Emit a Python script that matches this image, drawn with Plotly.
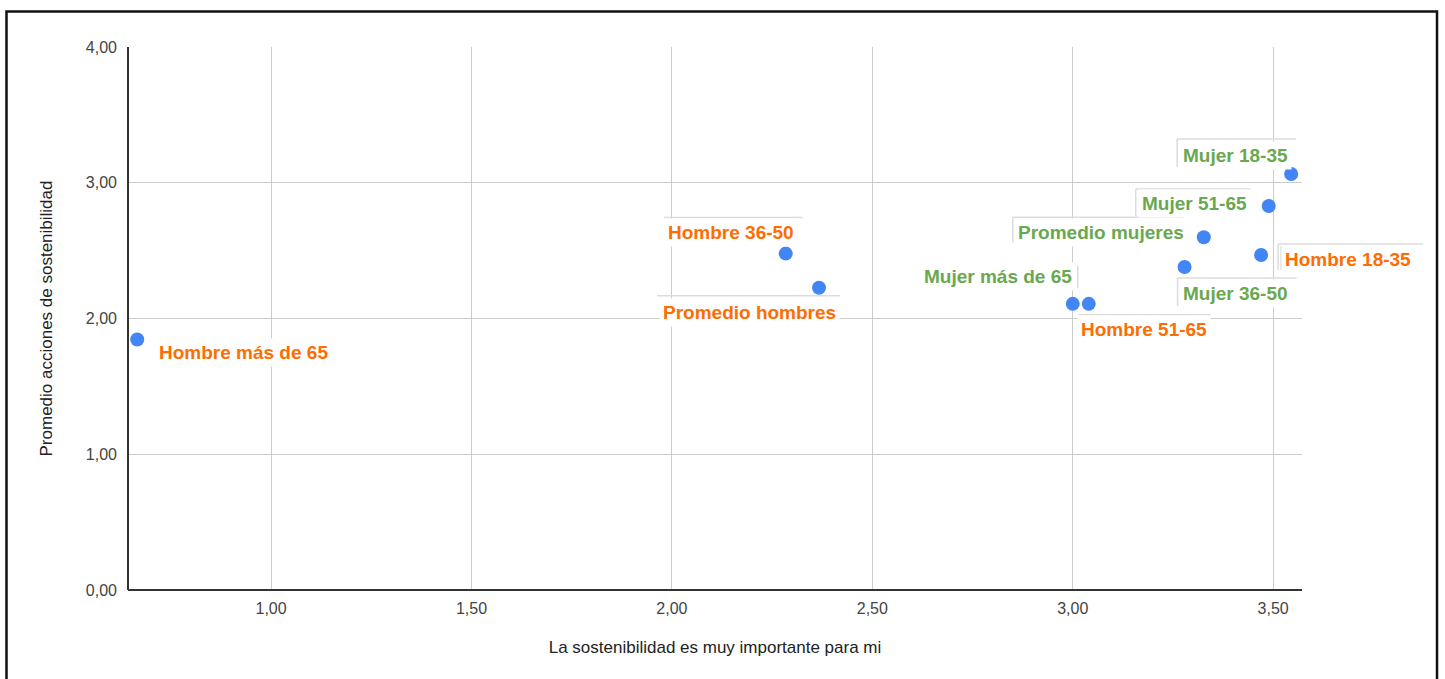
import plotly.graph_objects as go

# Segmentos (sexo / edad) y sus promedios
segmentos = [
    "Hombre más de 65", "Hombre 36-50", "Promedio hombres", "Mujer más de 65",
    "Hombre 51-65", "Mujer 36-50", "Promedio mujeres", "Hombre 18-35",
    "Mujer 51-65", "Mujer 18-35",
]
importancia = [0.666, 2.284, 2.367, 3.000, 3.040, 3.279, 3.327, 3.470, 3.489, 3.545]
acciones = [1.845, 2.478, 2.227, 2.108, 2.108, 2.379, 2.599, 2.468, 2.829, 3.064]
grupo = ["h", "h", "h", "m", "h", "m", "m", "h", "m", "m"]

x_ticks = [1.0, 1.5, 2.0, 2.5, 3.0, 3.5]
y_ticks = [0.0, 1.0, 2.0, 3.0, 4.0]
X_RANGO = [0.643, 3.572]
Y_RANGO = [0.0, 4.0]

COLOR_GRUPO = {"h": "#ff6d01", "m": "#6aa84f"}
PUNTO = "#4285f4"
BORDE_ETIQ = "#dcdcdc"

# Desplazamiento (px) del centro de cada etiqueta respecto a su punto: (dx, dy hacia abajo)
desplaz = [(106, 13), (-55, -21), (-70, 25), (-75, -27), (55, 26),
           (51, 26), (-103, -5), (87, 5), (-74, -2), (-56, -19)]

# Filetes claros del recuadro de cada etiqueta: (x0, y0, x1, y1) en px relativos al punto
filetes = [
    [],
    [(-122, -36, 17, -36)],
    [(-162, 8, 21, 8)],
    [(5, -38, 5, -16)],
    [(-10, 11, 122, 11)],
    [(-7, 11, 112, 11), (-7, 11, -7, 39)],
    [(-191, -20, -19, -20), (-191, -20, -191, 5)],
    [(17, -11, 162, -11), (17, -11, 17, 15), (20, -9, 20, 15)],
    [(-133, -17, -18, -17), (-133, -17, -133, 10)],
    [(-114, -35, 5, -35), (-114, -35, -114, -7)],
]

fig = go.Figure()
fig.add_trace(go.Scatter(
    x=importancia, y=acciones, mode="markers",
    marker=dict(size=14, color=PUNTO, line=dict(width=0)),
    hovertext=segmentos, hoverinfo="text", showlegend=False,
    cliponaxis=False,
))

for nombre, xv, yv, g, (dx, dy) in zip(segmentos, importancia, acciones, grupo, desplaz):
    fig.add_annotation(
        x=xv, y=yv, xref="x", yref="y", text=nombre, showarrow=False,
        xshift=dx, yshift=-dy, xanchor="center", yanchor="middle",
        font=dict(family="Liberation Sans, Arial, sans-serif", size=19,
                  color=COLOR_GRUPO[g], weight="bold"),
        bgcolor="white", borderpad=3,
    )


def a_papel(v, rango):
    return (v - rango[0]) / (rango[1] - rango[0])


# Los filetes se anclan al punto en coordenadas de papel para que no se recorten
for xv, yv, segs in zip(importancia, acciones, filetes):
    for (x0, y0, x1, y1) in segs:
        fig.add_shape(
            type="line", xref="paper", yref="paper",
            xsizemode="pixel", ysizemode="pixel",
            xanchor=a_papel(xv, X_RANGO), yanchor=a_papel(yv, Y_RANGO),
            x0=x0, x1=x1, y0=-y0, y1=-y1,
            line=dict(color=BORDE_ETIQ, width=1.5), layer="above",
        )

# Marco exterior del gráfico
fig.add_shape(
    type="rect", xref="paper", yref="paper",
    x0=-0.1035, x1=1.115, y0=-0.2, y1=1.0654,
    line=dict(color="#111111", width=2.5), layer="below",
)

fig.update_layout(
    width=1445, height=679,
    margin=dict(l=128, r=143, t=47, b=89),
    paper_bgcolor="white", plot_bgcolor="white",
    separators=",.",
    font=dict(family="Liberation Sans, Arial, sans-serif", size=16, color="#444444"),
    xaxis=dict(
        range=X_RANGO, tickvals=x_ticks, tickformat=".2f",
        showgrid=True, gridcolor="#cccccc", gridwidth=1,
        zeroline=False, showline=False, ticks="", ticklabelstandoff=7,
        tickfont=dict(size=16, color="#444444"),
        title=dict(text="La sostenibilidad es muy importante para mi",
                   font=dict(size=17, color="#222222"), standoff=25),
    ),
    yaxis=dict(
        range=Y_RANGO, tickvals=y_ticks, tickformat=".2f",
        showgrid=True, gridcolor="#cccccc", gridwidth=1,
        zeroline=False, showline=False, ticks="", ticklabelstandoff=10,
        tickfont=dict(size=16, color="#444444"),
        title=dict(text="Promedio acciones de sostenibilidad",
                   font=dict(size=17, color="#222222"), standoff=28),
    ),
)

# Ejes izquierdo e inferior oscuros
fig.add_shape(type="line", xref="paper", yref="paper", x0=0, x1=0, y0=0, y1=1,
              line=dict(color="#333333", width=2), layer="above")
fig.add_shape(type="line", xref="paper", yref="paper", x0=0, x1=1, y0=0, y1=0,
              line=dict(color="#333333", width=2), layer="above")

fig.write_html("out.html")
